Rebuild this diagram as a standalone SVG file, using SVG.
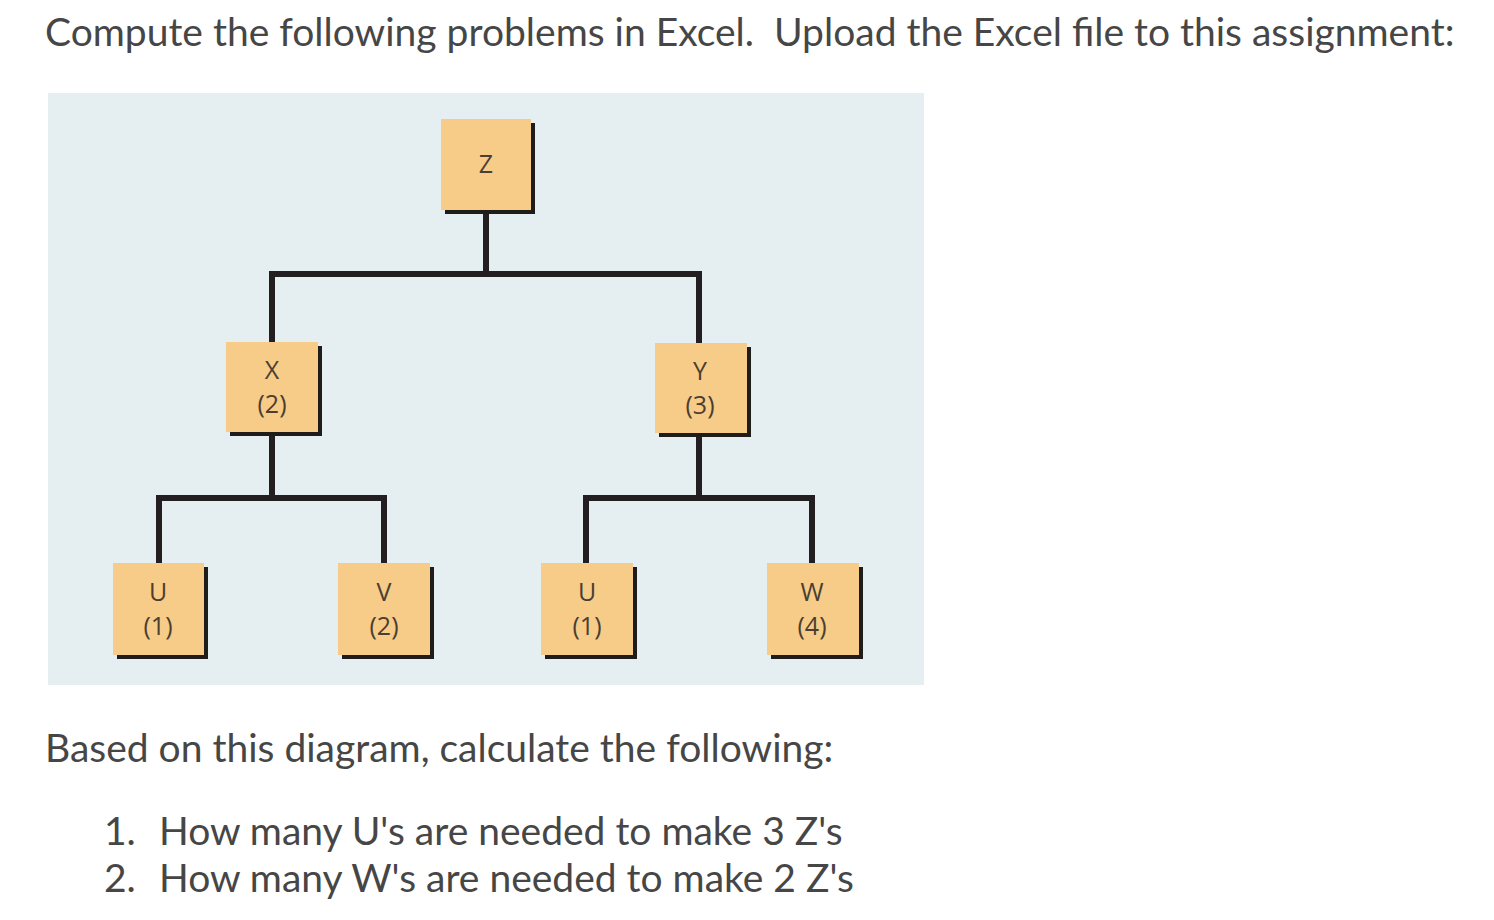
<svg xmlns="http://www.w3.org/2000/svg" width="1494" height="920" viewBox="0 0 1494 920">
<style>
.txt{font-family:Lato,"Open Sans","Liberation Sans",sans-serif;font-size:39px;fill:#464646}
.box{fill:#f6cc88}
.sh{fill:#1f1c1a}
.lbl{font-family:"Open Sans","Liberation Sans",sans-serif;font-size:25px;fill:#4a3f32;text-anchor:middle}
.con{fill:none;stroke:#231f20;stroke-width:6;stroke-linejoin:miter;stroke-linecap:butt}
</style>
<rect width="1494" height="920" fill="#ffffff"/>
<text class="txt" x="45" y="46" xml:space="preserve">Compute the following problems in Excel.  Upload the Excel file to this assignment:</text>
<rect id="panel" x="48" y="93" width="876" height="592" fill="#e5eef1"/>
<g id="connectors">
<path class="con" d="M486 212 V274"/>
<path class="con" d="M272 342 V274 H699 V343"/>
<path class="con" d="M272 434 V498"/>
<path class="con" d="M159 563 V498 H384 V563"/>
<path class="con" d="M699 435 V498"/>
<path class="con" d="M586 563 V498 H812 V563"/>
</g>
<g id="node-z">
<rect class="sh" x="445" y="123" width="90" height="91"/>
<rect class="box" x="441" y="119" width="90" height="91"/>
<text class="lbl" x="486" y="173">Z</text>
</g>
<g id="node-x">
<rect class="sh" x="230" y="346" width="92" height="90"/>
<rect class="box" x="226" y="342" width="92" height="90"/>
<text class="lbl" x="272" y="379">X</text>
<text class="lbl" x="272" y="413">(2)</text>
</g>
<g id="node-y">
<rect class="sh" x="659" y="347" width="92" height="90"/>
<rect class="box" x="655" y="343" width="92" height="90"/>
<text class="lbl" x="700" y="380">Y</text>
<text class="lbl" x="700" y="414">(3)</text>
</g>
<g id="node-u1">
<rect class="sh" x="117" y="567" width="91" height="92"/>
<rect class="box" x="113" y="563" width="91" height="92"/>
<text class="lbl" x="158" y="601">U</text>
<text class="lbl" x="158" y="635">(1)</text>
</g>
<g id="node-v">
<rect class="sh" x="342" y="567" width="92" height="92"/>
<rect class="box" x="338" y="563" width="92" height="92"/>
<text class="lbl" x="384" y="601">V</text>
<text class="lbl" x="384" y="635">(2)</text>
</g>
<g id="node-u2">
<rect class="sh" x="545" y="567" width="92" height="92"/>
<rect class="box" x="541" y="563" width="92" height="92"/>
<text class="lbl" x="587" y="601">U</text>
<text class="lbl" x="587" y="635">(1)</text>
</g>
<g id="node-w">
<rect class="sh" x="771" y="567" width="92" height="92"/>
<rect class="box" x="767" y="563" width="92" height="92"/>
<text class="lbl" x="812" y="601">W</text>
<text class="lbl" x="812" y="635">(4)</text>
</g>
<text class="txt" x="45" y="762">Based on this diagram, calculate the following:</text>
<text class="txt" x="104" y="845">1.</text>
<text class="txt" x="159" y="845">How many U's are needed to make 3 Z's</text>
<text class="txt" x="104" y="892">2.</text>
<text class="txt" x="159" y="892">How many W's are needed to make 2 Z's</text>
</svg>
